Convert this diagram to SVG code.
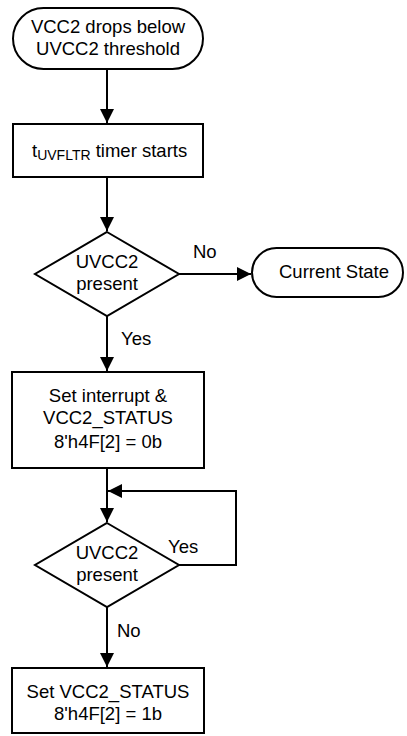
<svg xmlns="http://www.w3.org/2000/svg" width="407" height="736" viewBox="0 0 407 736">
<style>
.s{fill:#fff;stroke:#000;stroke-width:2}
.c{fill:none;stroke:#000;stroke-width:2}
text{font-family:"Liberation Sans",Arial,sans-serif;font-size:18.5px;fill:#000}
.m{text-anchor:middle}
</style>
<defs>
<marker id="a" markerWidth="14" markerHeight="14" refX="14" refY="7" viewBox="0 0 14 14" markerUnits="userSpaceOnUse" orient="auto">
<path d="M0,0 L14,7 L0,14 Z" fill="#000"/>
</marker>
</defs>
<rect width="407" height="736" fill="#fff"/>
<g id="connectors">
<path class="c" d="M107,69 V123" marker-end="url(#a)"/>
<path class="c" d="M107,177 V231" marker-end="url(#a)"/>
<path class="c" d="M179,274 H251" marker-end="url(#a)"/>
<path class="c" d="M107,316 V371" marker-end="url(#a)"/>
<path class="c" d="M107,468 V522" marker-end="url(#a)"/>
<path class="c" d="M179,565 H236 V491 H108" marker-end="url(#a)"/>
<path class="c" d="M107,607 V667" marker-end="url(#a)"/>
<text x="193" y="258">No</text>
<text x="121" y="345">Yes</text>
<text x="168" y="553">Yes</text>
<text x="117" y="637">No</text>
</g>
<g id="start">
<rect class="s" x="13" y="8" width="190" height="61" rx="30.5"/>
<text class="m" x="108" y="33">VCC2 drops below</text>
<text class="m" x="108" y="55">UVCC2 threshold</text>
</g>
<g id="timer">
<rect class="s" x="13" y="124" width="190" height="53"/>
<text x="32" y="157" font-size="19">t<tspan font-size="14" dy="3">UVFLTR</tspan><tspan dy="-3"> timer starts</tspan></text>
</g>
<g id="decision1">
<path class="s" d="M107,232 L179,274 L107,316 L35,274 Z"/>
<text class="m" x="107" y="268">UVCC2</text>
<text class="m" x="107" y="290">present</text>
</g>
<g id="current">
<rect class="s" x="252" y="248" width="151" height="49" rx="24.5"/>
<text class="m" x="334" y="278">Current State</text>
</g>
<g id="setint">
<rect class="s" x="12" y="372" width="192" height="96"/>
<text class="m" x="108" y="402">Set interrupt &amp;</text>
<text class="m" x="108" y="424">VCC2_STATUS</text>
<text class="m" x="108" y="448">8'h4F[2] = 0b</text>
</g>
<g id="decision2">
<path class="s" d="M107,523 L179,565 L107,607 L35,565 Z"/>
<text class="m" x="107" y="559">UVCC2</text>
<text class="m" x="107" y="581">present</text>
</g>
<g id="setstatus">
<rect class="s" x="12" y="668" width="192" height="65"/>
<text class="m" x="108" y="698">Set VCC2_STATUS</text>
<text class="m" x="108" y="720">8'h4F[2] = 1b</text>
</g>
</svg>
